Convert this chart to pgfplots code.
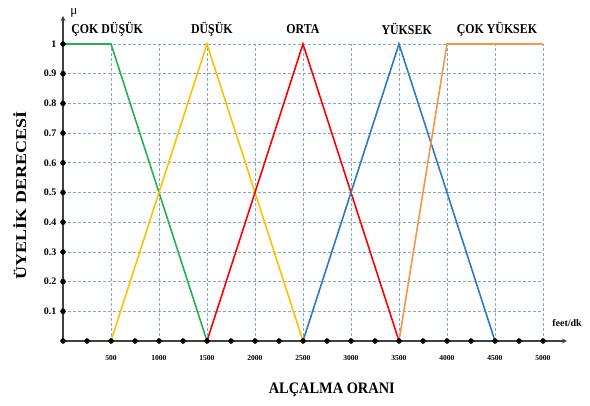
\documentclass[border=0pt]{standalone}
\usepackage{pgfplots}
\pgfplotsset{compat=1.18}
\usepackage{fontspec}
\setmainfont{Liberation Serif}
\definecolor{cgreen}{HTML}{22B14C}
\definecolor{cyellow}{HTML}{FFC000}
\definecolor{cred}{HTML}{FF0000}
\definecolor{cblue}{HTML}{2A7BC4}
\definecolor{corange}{HTML}{F79646}
\definecolor{cgrid}{HTML}{7FA6D8}
\begin{document}
\begin{tikzpicture}[x=1pt,y=1pt]
\useasboundingbox (-63,-65) rectangle (527,341);
\begin{axis}[
  scale only axis, width=480pt, height=297pt,
  xmin=0, xmax=5000, ymin=0, ymax=1,
  axis lines=left,
  axis line style={line width=1.2pt, draw=black!75, -stealth, shorten >=-24pt},
  y axis line style={shorten >=-28pt},
  clip=false,
  xtick={500,1000,...,5000},
  ytick={0.1,0.2,...,1.0},
  yticklabels={0.1,0.2,0.3,0.4,0.5,0.6,0.7,0.8,0.9,1},
  major tick length=0pt,
  grid=major,
  major grid style={cgrid, densely dashed, line width=0.6pt},
  xticklabel style={font=\fontsize{7.5}{8}\selectfont\bfseries, yshift=-11pt},
  yticklabel style={font=\fontsize{10}{11}\selectfont\bfseries, xshift=-3pt},
  /pgf/number format/assume math mode=true,
  scaled x ticks=false,
  xticklabel={\pgfmathprintnumber[fixed,1000 sep={}]{\tick}},
]
\addplot[cgreen, line width=1.6pt] coordinates {(0,1) (500,1) (1500,0)};
\addplot[cyellow, line width=1.6pt] coordinates {(500,0) (1500,1) (2500,0)};
\addplot[cred, line width=1.6pt] coordinates {(1500,0) (2500,1) (3500,0)};
\addplot[cblue, line width=1.6pt] coordinates {(2500,0) (3500,1) (4500,0)};
\addplot[corange, line width=1.6pt] coordinates {(3500,0) (4000,1) (5000,1)};
\addplot[only marks, mark=*, mark size=2.5pt, black] coordinates {
(0,0) (250,0) (500,0) (750,0) (1000,0) (1250,0) (1500,0) (1750,0) (2000,0) (2250,0) (2500,0) (2750,0) (3000,0) (3250,0) (3500,0) (3750,0) (4000,0) (4250,0) (4500,0) (4750,0) (5000,0)
(0,0.1) (0,0.2) (0,0.3) (0,0.4) (0,0.5) (0,0.6) (0,0.7) (0,0.8) (0,0.9) (0,1)};
\node[font=\fontsize{13.5}{15}\selectfont\bfseries, xscale=0.88] at (axis cs:460,1.05) {ÇOK DÜŞÜK};
\node[font=\fontsize{13.5}{15}\selectfont\bfseries, xscale=0.88] at (axis cs:1550,1.05) {DÜŞÜK};
\node[font=\fontsize{13.5}{15}\selectfont\bfseries, xscale=0.88] at (axis cs:2500,1.05) {ORTA};
\node[font=\fontsize{13.5}{15}\selectfont\bfseries, xscale=0.88] at (axis cs:3580,1.05) {YÜKSEK};
\node[font=\fontsize{13.5}{15}\selectfont\bfseries, xscale=0.88] at (axis cs:4520,1.05) {ÇOK YÜKSEK};
\node[font=\fontsize{13}{14}\selectfont, anchor=west] at (axis cs:40,1.105) {μ};
\node[font=\fontsize{10}{12}\selectfont\bfseries, anchor=west, inner sep=0pt] at (axis cs:5095,0.06) {feet/dk};
\node[font=\fontsize{16}{18}\selectfont\bfseries, xscale=0.9] at (axis cs:2800,-0.165) {ALÇALMA ORANI};
\node[font=\fontsize{15}{17}\selectfont\bfseries, rotate=90, xscale=1.2] at (axis cs:-450,0.49) {ÜYELİK DERECESİ};
\end{axis}
\end{tikzpicture}
\end{document}
